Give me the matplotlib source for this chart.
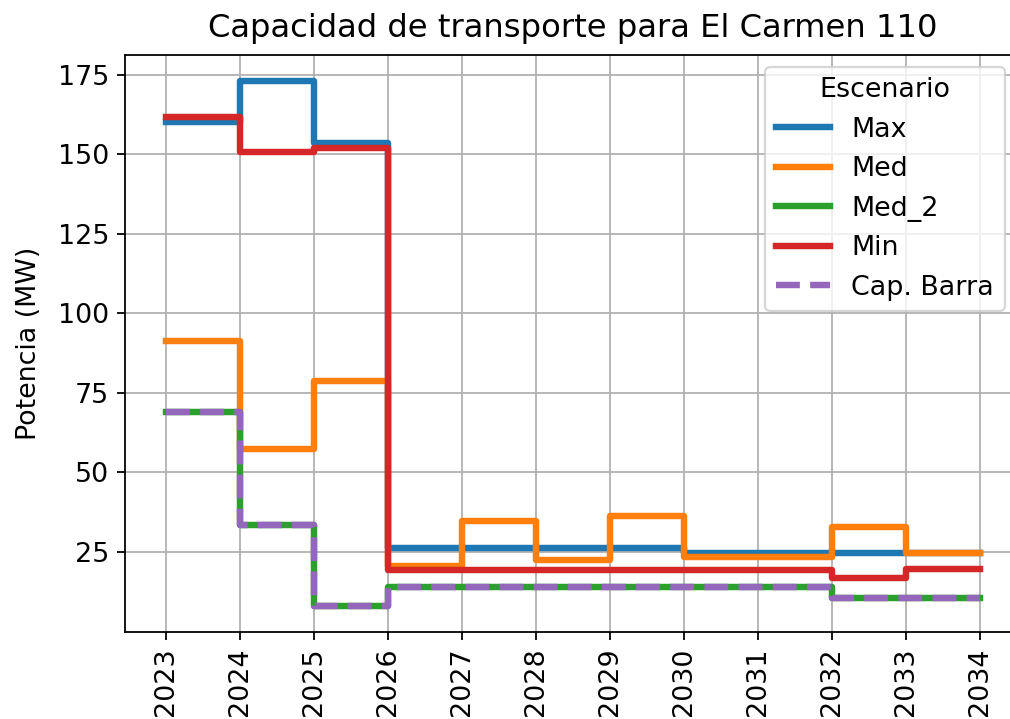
import matplotlib
matplotlib.use("Agg")
import matplotlib.pyplot as plt

years = [2023, 2024, 2025, 2026, 2027, 2028, 2029, 2030, 2031, 2032, 2033, 2034]
max_vals = [160.3, 173.0, 153.7, 26.2, 26.2, 26.2, 26.2, 24.8, 24.8, 24.8, 24.8, 24.8]
med_vals = [91.3, 57.3, 78.9, 20.6, 34.6, 22.5, 36.2, 23.4, 23.4, 33.0, 24.8, 24.8]
med2_vals = [69.0, 33.6, 8.1, 13.9, 13.9, 13.9, 13.9, 13.9, 13.9, 10.6, 10.6, 10.6]
min_vals = [161.8, 150.6, 151.9, 19.3, 19.3, 19.3, 19.3, 19.3, 19.3, 16.8, 19.6, 19.6]
cap_vals = [69.0, 33.6, 8.1, 13.9, 13.9, 13.9, 13.9, 13.9, 13.9, 10.6, 10.6, 10.6]

plt.rcParams["font.size"] = 12.1

fig = plt.figure(figsize=(1010 / 160, 719 / 160), dpi=160)
ax = fig.add_axes([125 / 1010, 1 - 632 / 719, 896 / 1010, (632 - 55) / 719])

lw = 2.9
ax.plot(years, max_vals, drawstyle="steps-post", color="#1f77b4", lw=lw, label="Max")
ax.plot(years, med_vals, drawstyle="steps-post", color="#ff7f0e", lw=lw, label="Med")
ax.plot(years, med2_vals, drawstyle="steps-post", color="#2ca02c", lw=lw, label="Med_2")
ax.plot(years, min_vals, drawstyle="steps-post", color="#d62728", lw=lw, label="Min")
ax.plot(years, cap_vals, drawstyle="steps-post", color="#9467bd", lw=lw, ls="--", label="Cap. Barra")

ax.set_xticks(years)
ax.set_xticklabels([str(y) for y in years], rotation=90)
ax.set_yticks([25, 50, 75, 100, 125, 150, 175])
ax.grid(True)
ax.set_ylabel("Potencia (MW)", labelpad=7)
ax.set_title("Capacidad de transporte para El Carmen 110", fontsize=14.5, pad=8)
ax.legend(title="Escenario", loc="upper right", bbox_to_anchor=(0.982, 0.98),
          borderaxespad=0, fontsize=12.1, title_fontsize=12.1)

fig.savefig("out.png", dpi=160)
